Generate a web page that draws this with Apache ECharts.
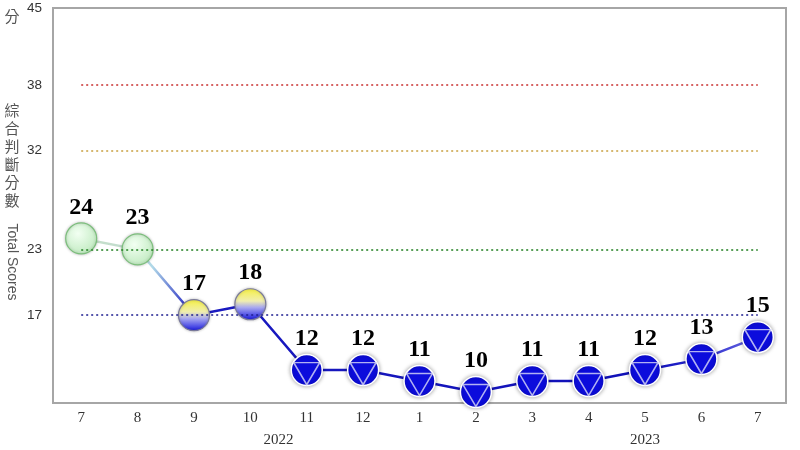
<!DOCTYPE html>
<html>
<head>
<meta charset="utf-8">
<script src="https://cdn.jsdelivr.net/npm/echarts@6/dist/echarts.min.js"></script>
<style>html,body{margin:0;padding:0;background:#fff}#c{width:800px;height:450px}</style>
</head>
<body>
<div id="c"></div>
<script>
const months = ['7','8','9','10','11','12','1','2','3','4','5','6','7'];
const periods = ['2022-07','2022-08','2022-09','2022-10','2022-11','2022-12','2023-01','2023-02','2023-03','2023-04','2023-05','2023-06','2023-07'];
const scores = [24, 23, 17, 18, 12, 12, 11, 10, 11, 11, 12, 13, 15];
const yTickLabels = [17, 23, 32, 38, 45];
const thresholds = [38, 32, 23, 17];
const thresholdColors = ['#c83030', '#c8a040', '#1f7f1f', '#1e1e90'];
const years = [{text: '2022', between: [3, 4]}, {text: '2023', between: [10, 10]}];

const chart = echarts.init(document.getElementById('c'));

const greenStyle = {
  color: new echarts.graphic.RadialGradient(0.4, 0.35, 0.7, [
    {offset: 0, color: '#f2fff2'}, {offset: 1, color: '#bfeabf'}]),
  borderColor: '#7cbf7c', borderWidth: 1.2,
  shadowBlur: 3, shadowColor: 'rgba(0,0,0,0.25)'
};
const yellowStyle = {
  color: new echarts.graphic.LinearGradient(0, 0, 0, 1, [
    {offset: 0, color: '#f6f040'}, {offset: 0.4, color: '#f0eeb0'},
    {offset: 0.6, color: '#a8a8f0'}, {offset: 1, color: '#1515e0'}]),
  borderColor: '#7a7a9a', borderWidth: 1.2,
  shadowBlur: 3, shadowColor: 'rgba(0,0,0,0.25)'
};
const blueStyle = {
  color: '#0c0cdc', borderColor: '#ffffff', borderWidth: 1.5,
  shadowBlur: 4, shadowColor: 'rgba(0,0,0,0.35)'
};

function styleFor(v, i) {
  if (i < 2) return greenStyle;
  if (i < 4) return yellowStyle;
  return blueStyle;
}

const lineData = scores.map((v, i) => ({value: v, itemStyle: styleFor(v, i)}));
const triData = scores.map((v, i) => (i >= 4 ? v : null));

const n = scores.length - 1;
const lineGrad = new echarts.graphic.LinearGradient(0, 0, 1, 0, [
  {offset: 0, color: '#c8e0c8'},
  {offset: 1 / n, color: '#c0dcd0'},
  {offset: 1.3 / n, color: '#b0d8e8'},
  {offset: 2 / n, color: '#1a1ac0'},
  {offset: 10 / n, color: '#1010b8'},
  {offset: 11 / n, color: '#2a2ad0'},
  {offset: 1, color: '#7070e0'}
]);

const markLines = thresholds.map((t, k) => ([
  {coord: [0, t], lineStyle: {color: thresholdColors[k], type: [2, 3], width: 1.6}},
  {coord: [n, t]}
]));

chart.setOption({
  animation: false,
  grid: {left: 53, right: 14, top: 8, bottom: 47, show: true, borderColor: '#a6a6a6', borderWidth: 2},
  xAxis: {
    type: 'category', data: periods, boundaryGap: true,
    axisLine: {show: false}, axisTick: {show: false},
    axisLabel: {formatter: (v, i) => months[i], fontFamily: 'Liberation Serif', fontSize: 15, color: '#333', margin: 8}
  },
  yAxis: {
    type: 'value', min: 9, max: 45, interval: 1,
    axisLine: {show: false}, axisTick: {show: false}, splitLine: {show: false},
    axisLabel: {formatter: v => (yTickLabels.indexOf(v) >= 0 ? String(v) : ''), fontFamily: 'Liberation Sans', fontSize: 13.5, color: '#333', margin: 11}
  },
  series: [
    {
      type: 'line', data: lineData, symbol: 'circle', symbolSize: 31,
      lineStyle: {color: lineGrad, width: 2.5},
      label: {show: true, position: 'top', distance: 3, fontFamily: 'Liberation Serif', fontWeight: 'bold', fontSize: 24, color: '#000'},
      markLine: {silent: true, symbol: 'none', label: {show: false}, data: markLines},
      z: 3
    },
    {
      type: 'scatter', data: triData,
      symbol: 'path://M0,0L100,0L50,86Z', symbolSize: [26, 22], symbolOffset: [0, 3.5],
      itemStyle: {color: 'rgba(0,0,0,0)', borderColor: '#dcdcf8', borderWidth: 1.5},
      z: 5, silent: true
    }
  ]
});

const gfx = [];
years.forEach(y => {
  const x = (chart.convertToPixel({xAxisIndex: 0}, periods[y.between[0]]) + chart.convertToPixel({xAxisIndex: 0}, periods[y.between[1]])) / 2;
  gfx.push({type: 'text', x: x, y: 440, style: {text: y.text, fontFamily: 'Liberation Serif', fontSize: 15, fill: '#333', align: 'center', verticalAlign: 'middle'}});
});
gfx.push({type: 'text', x: 12, y: 16, style: {text: '分', fontFamily: 'Noto Sans CJK TC', fontSize: 15, fill: '#555', align: 'center', verticalAlign: 'middle'}});
gfx.push({type: 'text', x: 12, y: 155, style: {text: '綜\n合\n判\n斷\n分\n數', fontFamily: 'Noto Sans CJK TC', fontSize: 15, lineHeight: 18, fill: '#555', align: 'center', verticalAlign: 'middle'}});
gfx.push({type: 'text', x: 12, y: 262, rotation: -Math.PI / 2, style: {text: 'Total Scores', fontFamily: 'Liberation Sans', fontSize: 14, fill: '#555', align: 'center', verticalAlign: 'middle'}});
chart.setOption({graphic: gfx});
</script>
</body>
</html>
